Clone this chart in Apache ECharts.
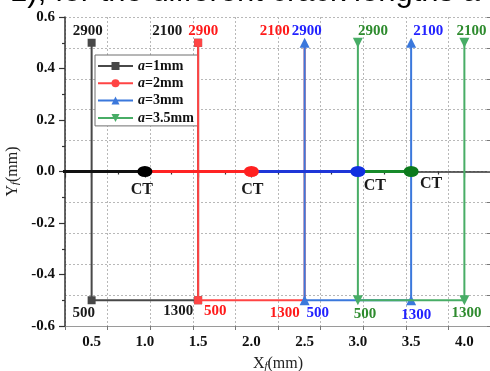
<!DOCTYPE html>
<html>
<head>
<meta charset="utf-8">
<script src="https://cdn.jsdelivr.net/npm/echarts@6/dist/echarts.min.js"></script>
<style>
  html, body { margin: 0; padding: 0; background: #fff; overflow: hidden; }
  #chart { width: 490px; height: 371px; }
</style>
</head>
<body>
<div id="chart"></div>
<script>
// Crack lengths a (mm): each crack runs along Y_f = 0 from X_f = 0 to its tip CT at X_f = a
const crackLengths = [1, 2, 3, 3.5];
const crackStartX = 0;
const seriesNames = ['a=1mm', 'a=2mm', 'a=3mm', 'a=3.5mm'];

// Cycle counts written at the four measuring points of every specimen
const cycleLabels = [2900, 500, 1300, 2100];
// X_f of the four measuring points, one row per crack length
const pointX = [
  [0.5, 0.5, 1.5, 1.5],
  [1.5, 1.5, 2.5, 2.5],
  [2.5, 2.5, 3.5, 3.5],
  [3.0, 3.0, 4.0, 4.0]
];
// Y_f of the four measuring points
const pointY = [0.5, -0.5, -0.5, 0.5];

// Axis ranges and tick steps
const xRange = [0.25, 4.25];
const yRange = [-0.6, 0.6];
const yStep = 0.2;

// ---- styling ----
const SERIF = '"Liberation Serif", "Times New Roman", serif';
const lineColors  = ['#484848', '#ff4444', '#3b78dc', '#48ad66'];
const textColors  = ['#1a1a1a', '#ff1a1a', '#2222ff', '#2e8b2e'];
const crackColors = ['#111111', '#ff2323', '#1e36d8', '#178a2a'];
const tipColors   = ['#000000', '#ff2020', '#1030e0', '#0b7a1c'];
const legendSymbols = ['rect', 'circle', 'triangle', 'triangle'];
const pointSymbols  = ['rect', 'rect', 'triangle', 'triangle'];
const symbolRotate  = [0, 0, 0, 180];
// marker size at each measuring point (the red ones at X_f = 2.5 sit under the blue arrows)
const pointSizes = [
  [8, 8, 8, 8],
  [8, 8, 3, 3],
  [10, 10, 10, 10],
  [10, 10, 10, 10]
];

// label offsets (px) for the cycle counts, same order as cycleLabels
const labelShift = [
  [[-4, -12], [-8, 13], [-20, 11], [-31, -12]],
  [[5, -12], [17, 11], [-20, 13], [-30, -12]],
  [[2, -12], [13, 13], [5, 15], [17, -12]],
  [[15, -12], [7, 14], [2, 13], [7, -12]]
];
// label offsets (px) for the "CT" tags
const tipShift = [[-3, 18], [1, 18], [17, 14], [20, 12]];

const series = [];

// measuring-point paths: 2900 -> 500 -> 1300 -> 2100
seriesNames.forEach((name, i) => {
  series.push({
    type: 'line',
    name: name,
    xAxisIndex: 0,
    yAxisIndex: 0,
    z: 3 + i,
    symbol: legendSymbols[i],
    symbolSize: 8,
    symbolRotate: symbolRotate[i],
    showAllSymbol: true,
    lineStyle: { color: lineColors[i], width: 2 },
    itemStyle: { color: lineColors[i] },
    emphasis: { disabled: true },
    data: cycleLabels.map((c, k) => ({
      value: [pointX[i][k], pointY[k]],
      symbol: pointSymbols[i],
      symbolSize: pointSizes[i][k],
      label: {
        show: true,
        position: 'inside',
        formatter: String(c),
        offset: labelShift[i][k],
        color: textColors[i],
        fontFamily: SERIF,
        fontWeight: 'bold',
        fontSize: 15
      }
    }))
  });
});

// cracks along Y_f = 0, the shortest one drawn on top
crackLengths.forEach((a, i) => {
  series.push({
    type: 'line',
    name: 'crack ' + seriesNames[i],
    xAxisIndex: 0,
    yAxisIndex: 0,
    z: 20 - i,
    clip: true,
    lineStyle: { color: crackColors[i], width: 3 },
    itemStyle: { color: tipColors[i] },
    emphasis: { disabled: true },
    data: [
      { value: [crackStartX, 0], symbol: 'none' },
      {
        value: [a, 0],
        symbol: 'circle',
        symbolSize: [15, 11],
        label: {
          show: true,
          position: 'inside',
          formatter: 'CT',
          offset: tipShift[i],
          color: '#1a1a1a',
          fontFamily: SERIF,
          fontWeight: 'bold',
          fontSize: 16
        }
      }
    ]
  });
});

const tickFont = { fontFamily: SERIF, fontWeight: 'bold', fontSize: 15, color: '#111' };
const gridLine = { show: true, lineStyle: { color: '#b8b8b8', type: [2, 2], width: 1 } };

const option = {
  animation: false,
  backgroundColor: '#ffffff',
  graphic: [{
    type: 'text',
    x: -33,
    y: -8,
    silent: true,
    style: {
      text: 'nd 1), for the different crack lengths a = ',
      fontSize: 31,
      fontFamily: '"Liberation Sans", Arial, sans-serif',
      fill: '#000',
      verticalAlign: 'middle'
    }
  }],
  grid: { left: 65, top: 17, width: 426, height: 309, containLabel: false, outerBoundsMode: 'none' },
  legend: {
    orient: 'vertical',
    left: 95,
    top: 55,
    data: seriesNames,
    backgroundColor: '#ffffff',
    borderColor: '#6e6e6e',
    borderWidth: 1,
    borderRadius: 0,
    padding: [4, 4, 1, 2],
    itemWidth: 35,
    itemHeight: 10,
    itemGap: 3.3,
    selectedMode: false,
    formatter: name => '{i|a}{t|' + name.slice(1) + '}',
    textStyle: {
      color: '#111',
      rich: {
        i: { fontFamily: SERIF, fontStyle: 'italic', fontWeight: 'bold', fontSize: 14, lineHeight: 14, color: '#111' },
        t: { fontFamily: SERIF, fontWeight: 'bold', fontSize: 14, lineHeight: 14, color: '#111' }
      }
    }
  },
  xAxis: [
    {
      type: 'value',
      position: 'bottom',
      min: xRange[0],
      max: xRange[1],
      splitNumber: 8,
      axisLine: { show: true, lineStyle: { color: '#333', width: 1.5 } },
      axisTick: { show: true, length: 6, lineStyle: { color: '#333', width: 1.2 } },
      minorTick: { show: true, splitNumber: 2, length: 3, lineStyle: { color: '#333', width: 1.2 } },
      axisLabel: { ...tickFont, margin: 9, showMinLabel: false, showMaxLabel: false,
        formatter: v => v.toFixed(1) },
      splitLine: { show: false },
      name: '{n|X}{s|f}{n|(mm)}',
      nameLocation: 'middle',
      nameGap: 30,
      nameTextStyle: {
        rich: {
          n: { fontFamily: SERIF, fontSize: 16, lineHeight: 16, color: '#222' },
          s: { fontFamily: SERIF, fontStyle: 'italic', fontSize: 11, lineHeight: 8, verticalAlign: 'bottom', color: '#222' }
        }
      }
    },
    {
      // frame on top, carrying the dotted vertical grid
      type: 'value',
      position: 'top',
      min: 0,
      max: 10,
      interval: 1,
      axisLine: { show: true, lineStyle: { color: '#9a9a9a', width: 1 } },
      axisTick: { show: true, inside: true, length: 4, lineStyle: { color: '#777' } },
      axisLabel: { show: false },
      splitLine: gridLine
    }
  ],
  yAxis: [
    {
      type: 'value',
      position: 'left',
      min: yRange[0],
      max: yRange[1],
      interval: yStep,
      axisLine: { show: true, lineStyle: { color: '#333', width: 1.5 } },
      axisTick: { show: true, length: 6, lineStyle: { color: '#333', width: 1.2 } },
      minorTick: { show: true, splitNumber: 2, length: 3, lineStyle: { color: '#333', width: 1.2 } },
      axisLabel: { ...tickFont, margin: 10, formatter: v => v.toFixed(1) },
      splitLine: { show: false },
      name: '{n|Y}{s|f}{n|(mm)}',
      nameLocation: 'middle',
      nameGap: 38,
      nameRotate: 90,
      nameTextStyle: {
        rich: {
          n: { fontFamily: SERIF, fontSize: 16, lineHeight: 16, color: '#222' },
          s: { fontFamily: SERIF, fontStyle: 'italic', fontSize: 11, lineHeight: 8, verticalAlign: 'bottom', color: '#222' }
        }
      }
    },
    {
      // frame on the right, carrying the dotted horizontal grid
      type: 'value',
      position: 'right',
      min: 0,
      max: 10,
      interval: 1,
      axisLine: { show: true, lineStyle: { color: '#9a9a9a', width: 1 } },
      axisTick: { show: true, inside: true, length: 4, lineStyle: { color: '#777' } },
      axisLabel: { show: false },
      splitLine: gridLine
    }
  ],
  series: series
};

const chart = echarts.init(document.getElementById('chart'), null, { renderer: 'canvas' });
chart.setOption(option);
</script>
</body>
</html>
